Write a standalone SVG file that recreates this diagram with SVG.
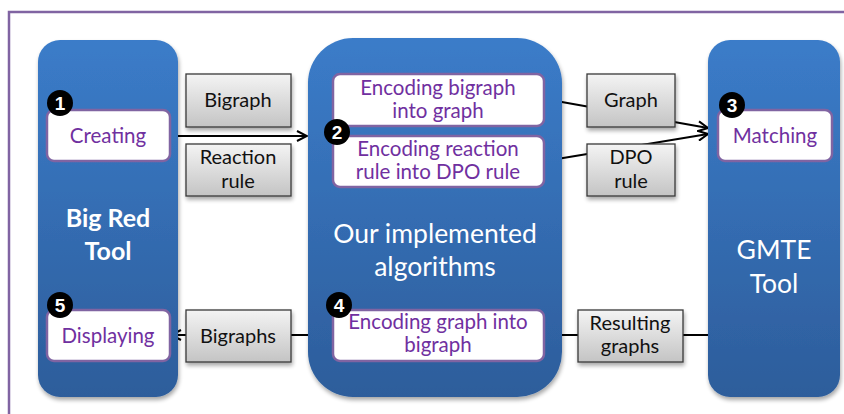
<svg xmlns="http://www.w3.org/2000/svg" width="844" height="414" viewBox="0 0 844 414">
<defs>
<linearGradient id="blue" x1="0" y1="0" x2="0" y2="1">
<stop offset="0" stop-color="#3b7cc9"/>
<stop offset="1" stop-color="#2d5d9b"/>
</linearGradient>
<linearGradient id="gray" x1="0" y1="0" x2="0" y2="1">
<stop offset="0" stop-color="#f4f4f4"/>
<stop offset="1" stop-color="#c4c4c4"/>
</linearGradient>
<filter id="sh" x="-20%" y="-20%" width="140%" height="140%">
<feGaussianBlur in="SourceAlpha" stdDeviation="2"/>
<feOffset dx="1" dy="3"/>
<feComponentTransfer><feFuncA type="linear" slope="0.35"/></feComponentTransfer>
<feMerge><feMergeNode/><feMergeNode in="SourceGraphic"/></feMerge>
</filter>
<marker id="arr" viewBox="0 0 12 12" refX="11" refY="6" markerWidth="12" markerHeight="12" markerUnits="userSpaceOnUse" orient="auto">
<path d="M1,1 L11,6 L1,11" fill="none" stroke="#000" stroke-width="2"/>
</marker>
</defs>
<style>
.col{fill:url(#blue);filter:url(#sh)}
.wb{fill:#fff;stroke:#8064a2;stroke-width:2.5}
.gb{fill:url(#gray);stroke:#3a3a3a;stroke-width:1.3;filter:url(#sh)}
.pt{font-family:Lato,"Open Sans",sans-serif;font-size:20.5px;fill:#7030a0;text-anchor:middle}
.bt{font-family:Lato,"Open Sans",sans-serif;font-size:20px;fill:#111;text-anchor:middle}
.wt{font-family:Lato,"Open Sans",sans-serif;font-size:26.5px;fill:#fff;text-anchor:middle}
.wtb{font-family:Lato,"Open Sans",sans-serif;font-size:25px;font-weight:bold;fill:#fff;text-anchor:middle}
.badge circle{fill:#000}
.badge text{font-family:"Liberation Sans",Arial,sans-serif;font-weight:bold;font-size:19px;fill:#fff;text-anchor:middle}
.ln{stroke:#000;stroke-width:2;fill:none}
</style>
<rect width="844" height="414" fill="#fff"/>
<rect x="9" y="12" width="860" height="420" fill="none" stroke="#8064a2" stroke-width="2.5"/>

<g id="connectors">
<line class="ln" x1="170" y1="136" x2="307" y2="136" marker-end="url(#arr)"/>
<line class="ln" x1="545" y1="99" x2="708" y2="128" marker-end="url(#arr)"/>
<line class="ln" x1="545" y1="161" x2="708" y2="134" marker-end="url(#arr)"/>
<line class="ln" x1="333" y1="335" x2="171" y2="335" marker-end="url(#arr)"/>
<line class="ln" x1="708" y1="335" x2="546" y2="335" marker-end="url(#arr)"/>
</g>

<g id="bigred">
<rect class="col" x="38" y="40" width="140" height="357" rx="22"/>
<text class="wtb" x="108" y="227">Big Red</text>
<text class="wtb" x="108" y="260">Tool</text>
</g>
<g id="algorithms">
<rect class="col" x="308" y="38" width="254" height="359" rx="45"/>
<text class="wt" x="435" y="243">Our implemented</text>
<text class="wt" x="435" y="276">algorithms</text>
</g>
<g id="gmte">
<rect class="col" x="708" y="40" width="132" height="357" rx="22"/>
<text class="wt" x="774" y="259">GMTE</text>
<text class="wt" x="774" y="293">Tool</text>
</g>

<g id="creating">
<rect class="wb" x="47" y="110" width="123" height="51" rx="7"/>
<text class="pt" x="108" y="143">Creating</text>
</g>
<g id="enc-bigraph">
<rect class="wb" x="333" y="74" width="211" height="52" rx="7"/>
<text class="pt" x="438" y="95">Encoding bigraph</text>
<text class="pt" x="438" y="118">into graph</text>
</g>
<g id="enc-rule">
<rect class="wb" x="333" y="136" width="211" height="51" rx="7"/>
<text class="pt" x="438" y="156">Encoding reaction</text>
<text class="pt" x="438" y="179">rule into DPO rule</text>
</g>
<g id="matching">
<rect class="wb" x="718" y="110" width="114" height="51" rx="7"/>
<text class="pt" x="775" y="143">Matching</text>
</g>
<g id="displaying">
<rect class="wb" x="47" y="310" width="123" height="51" rx="7"/>
<text class="pt" x="108" y="343">Displaying</text>
</g>
<g id="enc-graph">
<rect class="wb" x="333" y="310" width="211" height="51" rx="7"/>
<text class="pt" x="438" y="329">Encoding graph into</text>
<text class="pt" x="438" y="352">bigraph</text>
</g>

<g id="lbl-bigraph">
<rect class="gb" x="186" y="74" width="105" height="53"/>
<text class="bt" x="238" y="107">Bigraph</text>
</g>
<g id="lbl-reaction">
<rect class="gb" x="186" y="144" width="105" height="52"/>
<text class="bt" x="238" y="164">Reaction</text>
<text class="bt" x="238" y="188">rule</text>
</g>
<g id="lbl-graph">
<rect class="gb" x="587" y="74" width="88" height="53"/>
<text class="bt" x="631" y="107">Graph</text>
</g>
<g id="lbl-dpo">
<rect class="gb" x="587" y="144" width="88" height="52"/>
<text class="bt" x="631" y="164">DPO</text>
<text class="bt" x="631" y="188">rule</text>
</g>
<g id="lbl-bigraphs">
<rect class="gb" x="186" y="310" width="105" height="52"/>
<text class="bt" x="238" y="343">Bigraphs</text>
</g>
<g id="lbl-resulting">
<rect class="gb" x="578" y="310" width="105" height="52"/>
<text class="bt" x="630" y="330">Resulting</text>
<text class="bt" x="630" y="353">graphs</text>
</g>

<g id="badge1" class="badge"><circle cx="60" cy="103" r="13"/><text x="60" y="110">1</text></g>
<g id="badge2" class="badge"><circle cx="337" cy="132" r="13"/><text x="337" y="139">2</text></g>
<g id="badge3" class="badge"><circle cx="732" cy="105" r="13"/><text x="732" y="112">3</text></g>
<g id="badge4" class="badge"><circle cx="339" cy="305" r="13"/><text x="339" y="312">4</text></g>
<g id="badge5" class="badge"><circle cx="60" cy="305" r="13"/><text x="60" y="312">5</text></g>
</svg>
